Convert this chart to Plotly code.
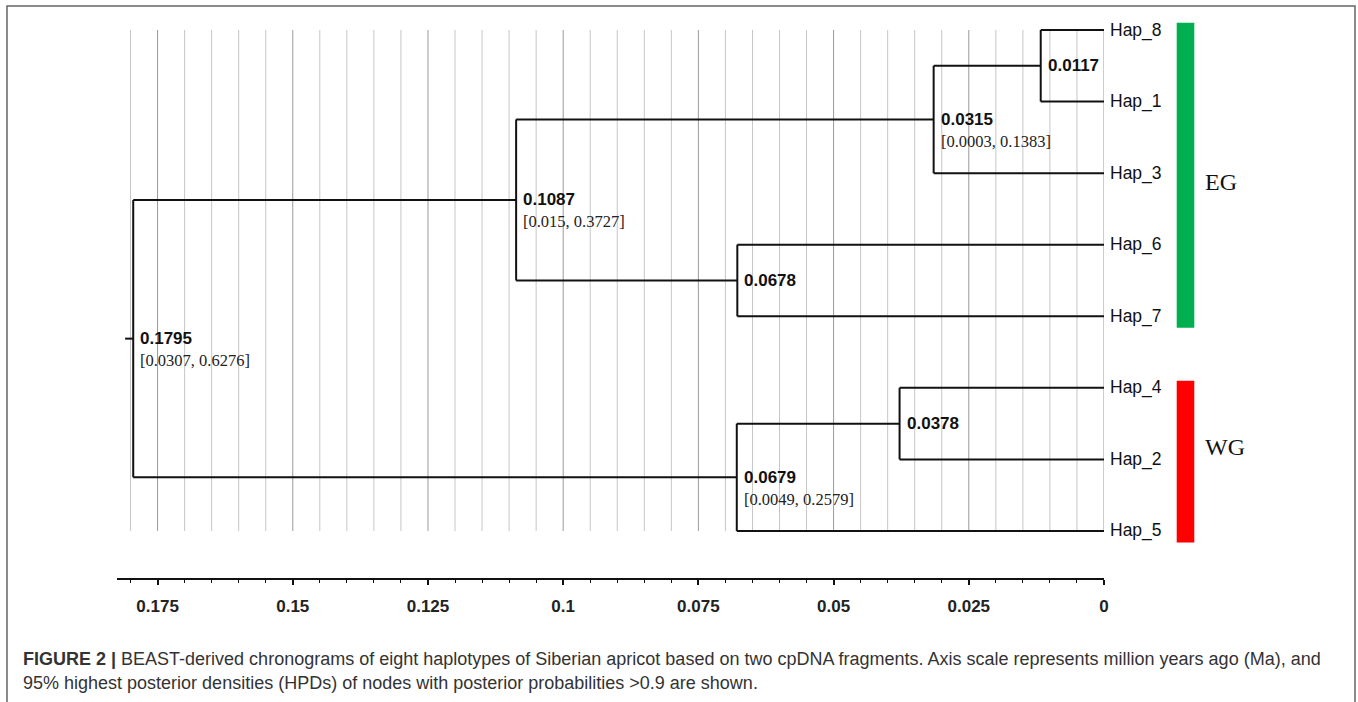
import plotly.graph_objects as go

# ---------------- data ----------------
tip_names = ["Hap_8", "Hap_1", "Hap_3", "Hap_6", "Hap_7", "Hap_4", "Hap_2", "Hap_5"]

node_ids = ["n0117", "n0315", "n0678", "n1087", "n0378", "n0679", "root"]
node_heights = [0.0117, 0.0315, 0.0678, 0.1087, 0.0378, 0.0679, 0.1795]
node_children = [("Hap_8", "Hap_1"), ("n0117", "Hap_3"), ("Hap_6", "Hap_7"),
                 ("n0315", "n0678"), ("Hap_4", "Hap_2"), ("n0378", "Hap_5"),
                 ("n1087", "n0679")]
node_labels = ["0.0117", "0.0315", "0.0678", "0.1087", "0.0378", "0.0679", "0.1795"]
node_hpd = [None, "[0.0003, 0.1383]", None, "[0.015, 0.3727]", None,
            "[0.0049, 0.2579]", "[0.0307, 0.6276]"]

group_names = ["EG", "WG"]
group_first = ["Hap_8", "Hap_4"]
group_last = ["Hap_7", "Hap_5"]
group_colors = ["#00b050", "#ff0000"]

tick_values = [0.175, 0.15, 0.125, 0.1, 0.075, 0.05, 0.025, 0.0]
tick_labels = ["0.175", "0.15", "0.125", "0.1", "0.075", "0.05", "0.025", "0"]
minor_step = 0.005

caption_line1 = ("<b>FIGURE 2 |</b> BEAST-derived chronograms of eight haplotypes of Siberian apricot "
                 "based on two cpDNA fragments. Axis scale represents million years ago (Ma), and")
caption_line2 = ("95% highest posterior densities (HPDs) of nodes with posterior probabilities "
                 "&gt;0.9 are shown.")

# ---------------- layout geometry (pixels) ----------------
W, H = 1358, 702
L, R, T, B = 117, 1104, 20, 578
X_MAX = 0.1825
Y_RANGE = [7.657, -0.1397]


def px_x(p):
    return (p - L) / (R - L)


def px_y(p):
    return (B - p) / (B - T)


SANS = "Liberation Sans, Arial, Helvetica, sans-serif"
SERIF = "Liberation Serif, Times New Roman, serif"

# ---------------- tree coordinates ----------------
pos_y = {name: float(i) for i, name in enumerate(tip_names)}
pos_x = {name: 0.0 for name in tip_names}
for nid, h, ch in zip(node_ids, node_heights, node_children):
    pos_x[nid] = h
    pos_y[nid] = (pos_y[ch[0]] + pos_y[ch[1]]) / 2.0

xs, ys = [], []
for nid, ch in zip(node_ids, node_children):
    hx = pos_x[nid]
    xs += [hx, hx, None]
    ys += [pos_y[ch[0]], pos_y[ch[1]], None]
    for c in ch:
        xs += [hx, pos_x[c], None]
        ys += [pos_y[c], pos_y[c], None]
root = node_ids[-1]
stub = 0.0015
xs += [pos_x[root], pos_x[root] + stub, None]
ys += [pos_y[root], pos_y[root], None]

fig = go.Figure()
fig.add_trace(go.Scatter(x=xs, y=ys, mode="lines",
                         line=dict(color="#111111", width=2),
                         hoverinfo="skip", showlegend=False))

shapes = []
n_grid = int(round(0.18 / minor_step))
for k in range(n_grid + 1):
    gx = round(k * minor_step, 4)
    major = (k % 5 == 0)
    shapes.append(dict(type="line", xref="x", yref="y", x0=gx, x1=gx,
                       y0=pos_y[tip_names[0]], y1=pos_y[tip_names[-1]],
                       line=dict(color="#9a9a9a" if major else "#c6c6c6", width=1),
                       layer="below"))

annotations = []
for name in tip_names:
    annotations.append(dict(x=0, y=pos_y[name], xref="x", yref="y", text=name,
                            showarrow=False, xanchor="left", yanchor="middle",
                            xshift=4, font=dict(family=SANS, size=17.5, color="#111111")))
for nid, lab, hpd in zip(node_ids, node_labels, node_hpd):
    annotations.append(dict(x=pos_x[nid], y=pos_y[nid], xref="x", yref="y", text=lab,
                            showarrow=False, xanchor="left", yanchor="middle",
                            xshift=5, yshift=0,
                            font=dict(family=SANS, size=17, color="#111111", weight="bold")))
    if hpd:
        annotations.append(dict(x=pos_x[nid], y=pos_y[nid], xref="x", yref="y", text=hpd,
                                showarrow=False, xanchor="left", yanchor="middle",
                                xshift=5, yshift=-22,
                                font=dict(family=SERIF, size=16.5, color="#222222")))

pad_top, pad_bot = 0.10, 0.16
label_dy = [0.1, -0.2]
for gname, g0, g1, col, dy in zip(group_names, group_first, group_last, group_colors, label_dy):
    y0 = pos_y[g0] - pad_top
    y1 = pos_y[g1] + pad_bot
    shapes.append(dict(type="rect", xref="paper", yref="y",
                       x0=px_x(1176.7), x1=px_x(1194.3), y0=y0, y1=y1,
                       fillcolor=col, line=dict(width=0)))
    annotations.append(dict(x=px_x(1203), y=(y0 + y1) / 2 + dy, xref="paper", yref="y",
                            text=gname, showarrow=False, xanchor="left", yanchor="middle",
                            font=dict(family=SERIF, size=24, color="#111111")))

shapes.append(dict(type="rect", xref="paper", yref="paper",
                   x0=px_x(7), x1=px_x(1355), y0=px_y(710), y1=px_y(6),
                   line=dict(color="#666666", width=1.5), fillcolor="rgba(0,0,0,0)"))

annotations.append(dict(x=px_x(21), y=px_y(659), xref="paper", yref="paper",
                        text=caption_line1, showarrow=False, xanchor="left", yanchor="middle",
                        font=dict(family=SANS, size=18, color="#333333")))
annotations.append(dict(x=px_x(21), y=px_y(683), xref="paper", yref="paper",
                        text=caption_line2, showarrow=False, xanchor="left", yanchor="middle",
                        font=dict(family=SANS, size=18, color="#333333")))

fig.update_layout(
    width=W, height=H,
    margin=dict(l=L, r=W - R, t=T, b=H - B, pad=0),
    paper_bgcolor="white", plot_bgcolor="white",
    shapes=shapes, annotations=annotations,
    showlegend=False,
    xaxis=dict(range=[X_MAX, 0], showgrid=False, zeroline=False,
               showline=True, linecolor="#111111", linewidth=2,
               ticks="outside", ticklen=5, tickwidth=1.5, tickcolor="#111111",
               tickvals=tick_values, ticktext=tick_labels,
               ticklabelstandoff=7,
               tickfont=dict(family=SANS, size=17, color="#222222", weight="bold"),
               minor=dict(tickvals=[round(k * minor_step, 4) for k in range(n_grid + 1)],
                          ticks="outside", ticklen=3, tickwidth=1.2,
                          tickcolor="#111111", showgrid=False),
               fixedrange=True),
    yaxis=dict(range=Y_RANGE, visible=False, fixedrange=True),
)

fig.write_html("out.html", config={"displayModeBar": False, "responsive": False})
